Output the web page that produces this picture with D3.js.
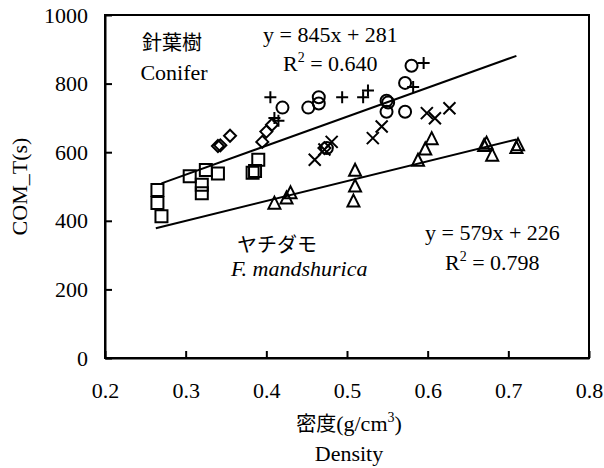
<!DOCTYPE html>
<html>
<head>
<meta charset="utf-8">
<script src="https://cdn.jsdelivr.net/npm/d3@7"></script>
<style>
body { margin: 0; background: #fff; }
text { font-family: "Liberation Serif", "Times New Roman", serif; fill: #000; }
.jp { font-family: "Noto Sans CJK JP", sans-serif; }
</style>
</head>
<body>
<div id="chart"></div>
<script>
// density (g/cm3) and COM_T (s) for each marker group
var squareD = [0.265, 0.265, 0.27, 0.305, 0.32, 0.32, 0.325, 0.34, 0.383, 0.386, 0.39];
var squareT = [490, 452, 413, 530, 480, 505, 548, 538, 540, 545, 578];
var diamondD = [0.34, 0.343, 0.355, 0.395, 0.40, 0.407, 0.472];
var diamondT = [618, 620, 648, 630, 660, 680, 612];
var circleD = [0.42, 0.452, 0.465, 0.465, 0.475, 0.549, 0.551, 0.549, 0.572, 0.572, 0.58];
var circleT = [730, 730, 760, 742, 612, 750, 745, 718, 718, 802, 852];
var plusD = [0.405, 0.41, 0.415, 0.494, 0.52, 0.526, 0.582, 0.595];
var plusT = [760, 700, 692, 760, 760, 780, 790, 860];
var crossD = [0.46, 0.472, 0.481, 0.532, 0.543, 0.599, 0.609, 0.627];
var crossT = [578, 608, 630, 641, 675, 714, 699, 728];
var triD = [0.41, 0.425, 0.43, 0.508, 0.51, 0.51, 0.588, 0.597, 0.605, 0.67, 0.673, 0.68, 0.71, 0.712];
var triT = [450, 465, 480, 456, 500, 546, 575, 608, 638, 618, 625, 590, 612, 620];

// regression lines: slope, intercept, x range
var coniferFit = [845, 281];
var coniferRange = [0.27, 0.71];
var fraxinusFit = [579, 226];
var fraxinusRange = [0.263, 0.71];

var xTicks = [0.2, 0.3, 0.4, 0.5, 0.6, 0.7, 0.8];
var yTicks = [0, 200, 400, 600, 800, 1000];

var width = 604, height = 468;
var plotL = 105, plotR = 589, plotT = 15, plotB = 358;
var fs = 22;

var svg = d3.select('#chart')
	.append('svg')
	.attr('width', width)
	.attr('height', height);

var x = d3.scaleLinear().domain([0.2, 0.8]).range([plotL, plotR]);
var y = d3.scaleLinear().domain([0, 1000]).range([plotB, plotT]);

// frame
svg.append('rect')
	.attr('x', plotL).attr('y', plotT)
	.attr('width', plotR - plotL).attr('height', plotB - plotT)
	.attr('fill', 'none').attr('stroke', '#000').attr('stroke-width', 2);

// axes with inward ticks
var xAxis = d3.axisBottom(x).tickValues(xTicks).tickFormat(d3.format('.1f'))
	.tickSizeInner(-7).tickSizeOuter(0).tickPadding(24);
svg.append('g')
	.attr('transform', 'translate(0,' + plotB + ')')
	.call(xAxis);

var yAxis = d3.axisLeft(y).tickValues(yTicks).tickFormat(d3.format('d'))
	.tickSizeInner(-7).tickSizeOuter(0).tickPadding(17);
svg.append('g')
	.attr('transform', 'translate(' + plotL + ',0)')
	.call(yAxis);

svg.selectAll('.tick line').attr('stroke', '#000').attr('stroke-width', 2);
svg.selectAll('.domain').attr('stroke', '#000').attr('stroke-width', 2);
svg.selectAll('.tick text').style('font-size', fs + 'px').attr('fill', '#000');

// fit lines
function fitLine(fit, range) {
	svg.append('line')
		.attr('x1', x(range[0])).attr('y1', y(fit[0] * range[0] + fit[1]))
		.attr('x2', x(range[1])).attr('y2', y(fit[0] * range[1] + fit[1]))
		.attr('stroke', '#000').attr('stroke-width', 2);
}
fitLine(coniferFit, coniferRange);
fitLine(fraxinusFit, fraxinusRange);

// marker shapes
var s = 6;
var shapes = {
	square: function(){ return 'M' + (-s) + ',' + (-s) + 'h' + 2*s + 'v' + 2*s + 'h' + (-2*s) + 'Z'; },
	diamond: function(){ return 'M0,' + (-s) + 'L' + s + ',0L0,' + s + 'L' + (-s) + ',0Z'; },
	circle: function(){ return d3.arc()({innerRadius: 0, outerRadius: s, startAngle: 0, endAngle: 2 * Math.PI}); },
	plus: function(){ return 'M' + (-s) + ',0H' + s + 'M0,' + (-s) + 'V' + s; },
	cross: function(){ return 'M' + (-s) + ',' + (-s) + 'L' + s + ',' + s + 'M' + s + ',' + (-s) + 'L' + (-s) + ',' + s; },
	triangle: function(){ return 'M0,' + (-s - 1) + 'L' + s + ',' + (s - 1) + 'L' + (-s) + ',' + (s - 1) + 'Z'; }
};

function drawMarkers(xs, ys, shape) {
	svg.append('g').selectAll('path')
		.data(d3.zip(xs, ys))
		.enter()
		.append('path')
		.attr('transform', function(d){
			return 'translate(' + x(d[0]) + ',' + y(d[1]) + ')';
		})
		.attr('d', shapes[shape])
		.attr('fill', 'none')
		.attr('stroke', '#000')
		.attr('stroke-width', 2);
}
drawMarkers(squareD, squareT, 'square');
drawMarkers(diamondD, diamondT, 'diamond');
drawMarkers(circleD, circleT, 'circle');
drawMarkers(plusD, plusT, 'plus');
drawMarkers(crossD, crossT, 'cross');
drawMarkers(triD, triT, 'triangle');

// annotations
function label(tx, ty, opts) {
	opts = opts || {};
	var t = svg.append('text')
		.attr('x', tx).attr('y', ty)
		.style('font-size', (opts.size || fs) + 'px')
		.attr('text-anchor', opts.anchor || 'start');
	if (opts.cls) t.attr('class', opts.cls);
	if (opts.italic) t.style('font-style', 'italic');
	return t;
}
function rSquared(tx, ty, val) {
	var t = label(tx, ty);
	t.append('tspan').text('R');
	t.append('tspan').attr('dy', -9).style('font-size', '14px').text('2');
	t.append('tspan').attr('dy', 9).text(' = ' + val);
}

label(263, 42).text('y = 845x + 281');
rSquared(283, 71, '0.640');

label(172, 50, {anchor: 'middle', cls: 'jp', size: 20}).text('針葉樹');
label(174, 80, {anchor: 'middle'}).text('Conifer');

label(237, 252, {cls: 'jp', size: 20}).text('ヤチダモ');
label(231, 276, {italic: true}).text('F. mandshurica');

label(425, 240).text('y = 579x + 226');
rSquared(445, 270, '0.798');

// axis titles
svg.append('text')
	.attr('transform', 'translate(27,' + ((plotT + plotB) / 2) + ') rotate(-90)')
	.attr('text-anchor', 'middle')
	.style('font-size', fs + 'px')
	.text('COM_T(s)');

var xt = svg.append('text')
	.attr('x', 349).attr('y', 431)
	.attr('text-anchor', 'middle')
	.style('font-size', fs + 'px');
xt.append('tspan').attr('class', 'jp').style('font-size', '20px').text('密度');
xt.append('tspan').text('(g/cm');
xt.append('tspan').attr('dy', -9).style('font-size', '14px').text('3');
xt.append('tspan').attr('dy', 9).text(')');

svg.append('text')
	.attr('x', 349).attr('y', 461)
	.attr('text-anchor', 'middle')
	.style('font-size', fs + 'px')
	.text('Density');
</script>
</body>
</html>
